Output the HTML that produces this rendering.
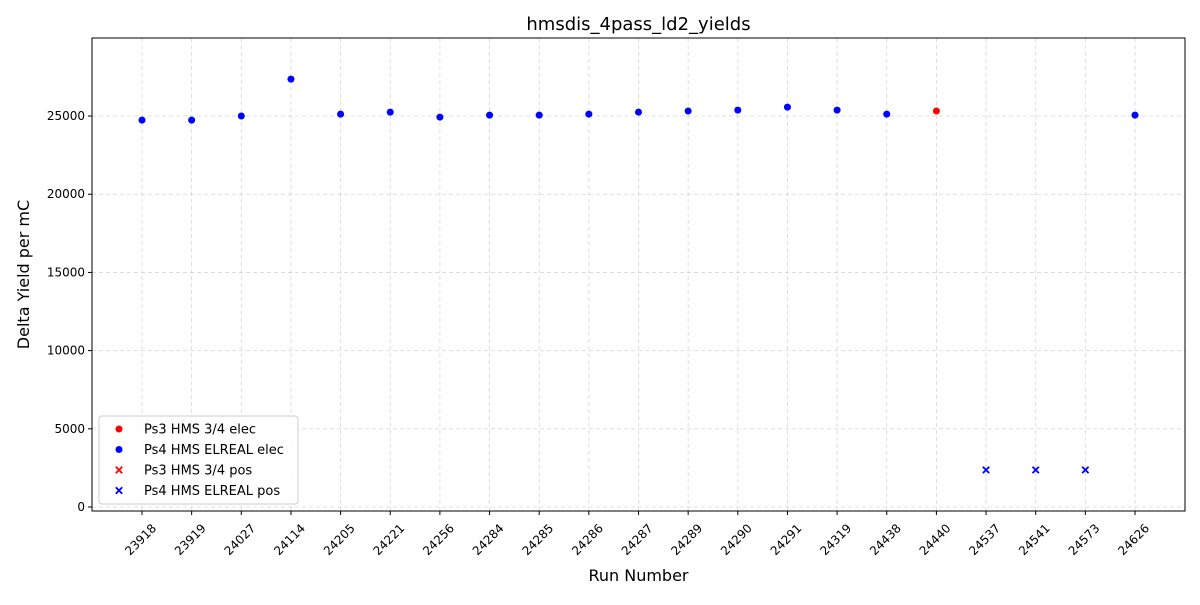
<!DOCTYPE html>
<html><head><meta charset="utf-8"><style>
body{margin:0;background:#fff;font-family:"Liberation Sans","DejaVu Sans",sans-serif;}
</style></head><body>
<svg id="chart" width="1200" height="600" xmlns="http://www.w3.org/2000/svg" font-family="DejaVu Sans, Liberation Sans, sans-serif"></svg>
<script>
const categories=["23918","23919","24027","24114","24205","24221","24256","24284","24285","24286","24287","24289","24290","24291","24319","24438","24440","24537","24541","24573","24626"];
const ps4Elec=[24740,24740,25000,27360,25120,25250,24930,25060,25060,25120,25250,25320,25380,25570,25380,25120,null,null,null,null,25060];
const ps3Elec=[null,null,null,null,null,null,null,null,null,null,null,null,null,null,null,null,25320,null,null,null,null];
const ps4Pos=[null,null,null,null,null,null,null,null,null,null,null,null,null,null,null,null,null,2370,2370,2370,null];
const yTicks=[0,5000,10000,15000,20000,25000];
const L=92,R=1185,T=38,B=511;
const yMin=-256,yMax=29990;
const X=i=>142+i*(1135-142)/(categories.length-1);
const Y=v=>B-(v-yMin)/(yMax-yMin)*(B-T);
const svg=document.getElementById('chart');
const NS="http://www.w3.org/2000/svg";
function mk(tag,attrs,parent){const e=document.createElementNS(NS,tag);for(const k in attrs)e.setAttribute(k,attrs[k]);(parent||svg).appendChild(e);return e;}
categories.forEach((c,i)=>{
 const g=mk('line',{x1:X(i),x2:X(i),y1:T,y2:B,stroke:'#b0b0b0','stroke-width':0.8,'stroke-dasharray':'4,3',opacity:0.5});
 
 
 const t=mk('line',{x1:X(i),x2:X(i),y1:B,y2:B+4,stroke:'#000'});
 
 
 const lab=mk('text',{x:0,y:0,'font-size':12,'text-anchor':'end',transform:`translate(${X(i)+15},${B+18}) rotate(-45)`});
 lab.textContent=c;
 
 
});
yTicks.forEach(v=>{
 const g=mk('line',{x1:L,x2:R,y1:Y(v),y2:Y(v),stroke:'#b0b0b0','stroke-width':0.8,'stroke-dasharray':'4,3',opacity:0.5});
 
 
 const t=mk('line',{x1:L-4,x2:L,y1:Y(v),y2:Y(v),stroke:'#000'});
 
 
 const lab=mk('text',{x:L-7,y:Y(v)+4,'font-size':12,'text-anchor':'end'});
 lab.textContent=v;
 
 
});
const frame=mk('rect',{x:L,y:T,width:R-L,height:B-T,fill:'none',stroke:'#000','stroke-width':1});


function dot(x,y,col){const c=mk('circle',{cx:x,cy:y,r:3.5,fill:col});return c;}
function cross(x,y,col){const g=mk('path',{d:`M${x-3.2},${y-3.2}L${x+3.2},${y+3.2}M${x-3.2},${y+3.2}L${x+3.2},${y-3.2}`,stroke:col,'stroke-width':1.8});return g;}
ps4Elec.forEach((v,i)=>{if(v==null)return;const p=dot(X(i),Y(v),'#0000ff');
 
 });
ps3Elec.forEach((v,i)=>{if(v==null)return;const p=dot(X(i),Y(v),'#ff0000');
 
 });
ps4Pos.forEach((v,i)=>{if(v==null)return;const p=cross(X(i),Y(v),'#0000ff');
 
 });
const title=mk('text',{x:(L+R)/2,y:30,'font-size':18,'text-anchor':'middle'});title.textContent='hmsdis_4pass_ld2_yields';


const xl=mk('text',{x:(L+R)/2,y:581,'font-size':16,'text-anchor':'middle'});xl.textContent='Run Number';


const yl=mk('text',{x:0,y:0,'font-size':16,'text-anchor':'middle',transform:`translate(29,${(T+B)/2}) rotate(-90)`});yl.textContent='Delta Yield per mC';


const lg=mk('g',{});


mk('rect',{x:99,y:416,width:199,height:88,rx:3,fill:'#fff',stroke:'#ccc','fill-opacity':0.8},lg);
const entries=[['Ps3 HMS 3/4 elec','#ff0000','o'],['Ps4 HMS ELREAL elec','#0000ff','o'],['Ps3 HMS 3/4 pos','#ff0000','x'],['Ps4 HMS ELREAL pos','#0000ff','x']];
entries.forEach((e,k)=>{const y=429+k*20.5;
 const m=e[2]=='o'?dot(119,y,e[1]):cross(119,y,e[1]);lg.appendChild(m);
 const t=mk('text',{x:144,y:y+4.5,'font-size':13},lg);t.textContent=e[0];
 
 
});
</script>
</body></html>
